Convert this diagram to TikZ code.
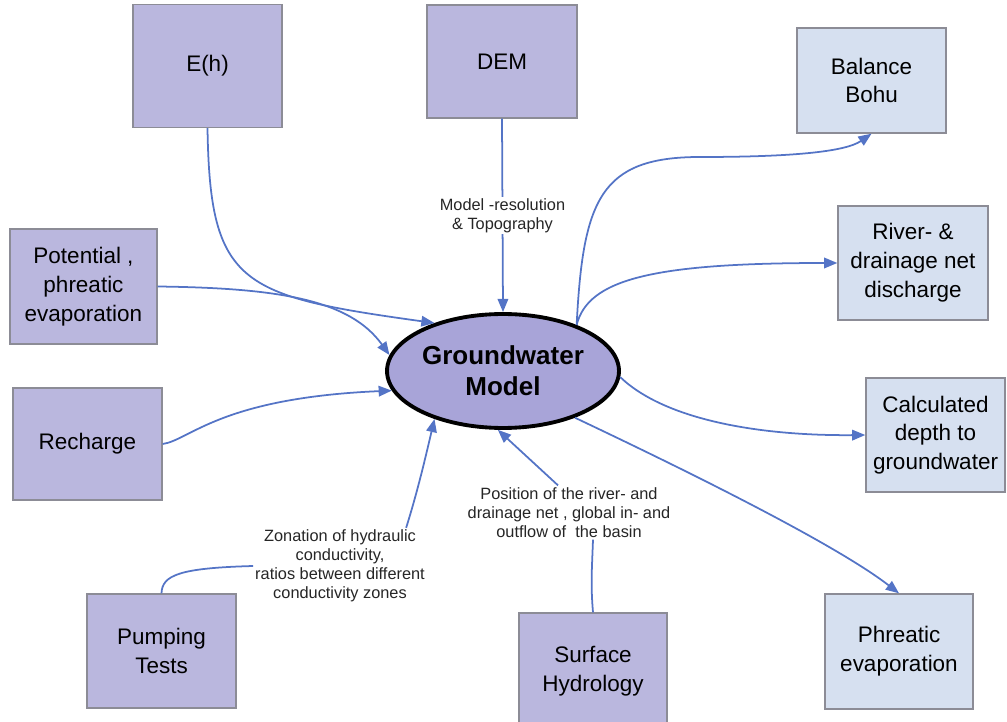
\documentclass[tikz,border=0pt]{standalone}
\usepackage{fontspec}
\setmainfont{Liberation Sans}
\usetikzlibrary{shapes.geometric,arrows.meta}
\definecolor{inboxfill}{RGB}{186,183,222}
\definecolor{outboxfill}{RGB}{214,224,240}
\definecolor{boxline}{RGB}{140,140,150}
\definecolor{arrowblue}{RGB}{84,116,198}
\definecolor{corefill}{RGB}{168,164,216}

\begin{document}
\begin{tikzpicture}[x=0.02cm,y=-0.02cm]
        \tikzstyle{source}=[rectangle,draw=boxline,line width=0.8pt,fill=inboxfill,minimum width=2.98cm,minimum height=2.28cm,inner sep=0pt,align=center,font=\fontsize{12.8}{16.4}\selectfont]
        \tikzstyle{result}=[source,fill=outboxfill]
        \tikzstyle{core}=[ellipse,draw=black,line width=2.2pt,fill=corefill,minimum width=4.64cm,minimum height=2.28cm,inner sep=0pt,align=center,font=\fontsize{14.8}{17.6}\selectfont\bfseries]
        \tikzstyle{note}=[fill=white,inner sep=1pt,align=center,text=black!85,font=\fontsize{9.3}{10.8}\selectfont]
        \tikzstyle{flow}=[draw=arrowblue,line width=1pt,-{Triangle[length=7.5pt,width=6pt]}]
        \tikzstyle{feed}=[draw=arrowblue,line width=1pt]
        \useasboundingbox (0,0) rectangle (1007,722);
        \clip (0,0) rectangle (1007,722);
        \begin{scope}
                \node [core] (gw) at (503,371) {Groundwater\\Model};
                \node [source,minimum height=2.46cm] (eh) at (207.5,66) {E(h)};
                \node [source,minimum width=3cm,minimum height=2.26cm] (dem) at (502,61.5) {DEM};
                \node [source,minimum width=2.94cm,minimum height=2.3cm] (pot) at (83.5,286.5) {Potential ,\\phreatic\\evaporation};
                \node [source,minimum height=2.24cm] (rech) at (87.5,444) {Recharge};
                \node [source] (pump) at (161.5,651) {Pumping\\Tests};
                \node [source,minimum width=2.96cm,minimum height=2.32cm] (surf) at (593,671) {Surface\\Hydrology};
                \node [result,minimum height=2.1cm] (bohu) at (871.5,80.5) {Balance\\Bohu};
                \node [result,minimum width=3cm] (river) at (913,263) {River- \&\\drainage net\\discharge};
                \node [result,minimum width=2.78cm] (depth) at (935.5,435) {Calculated\\depth to\\groundwater};
                \node [result,minimum width=2.96cm,minimum height=2.3cm] (phreat) at (899,651.5) {Phreatic\\evaporation};
                \node [note] (zlab) at (340,566) {Zonation of hydraulic\\conductivity,\\ratios between different\\conductivity zones};
                \node [note] (plab) at (569,512.5) {Position of the river- and\\drainage net , global in- and\\outflow of \ the basin};

                \path[flow] (eh.south) .. controls (210,285) and (240,296) .. (gw.145);
                \path[flow] (dem.south) -- node[note] (mlab) {Model -resolution\\\& Topography} (gw.north);
                \path[flow] (pot.east) .. controls (280,288) and (350,300) .. (gw.172);
                \path[flow] (rech.east) .. controls (190,440) and (220,398) .. (gw.190);
                \path[feed] (pump.north) .. controls (162,575) and (180,568) .. (zlab.west);
                \path[flow] (zlab.30) .. controls (418,490) and (426,455) .. (gw.215);
                \path[feed] (surf.north) to[out=95,in=-92] (plab.south -| surf.north);
                \path[flow] (plab.112) -- (gw.265);
                \path[flow] (gw.32) .. controls (583,200) and (600,157) .. (700,157) .. controls (790,157) and (845,152) .. (bohu.south);
                \path[flow] (gw.32) .. controls (588,280) and (650,263) .. (river.west);
                \path[flow] (gw.-3) .. controls (665,420) and (760,436) .. (depth.west);
                \path[flow] (gw.-33) .. controls (660,458) and (830,540) .. (phreat.north);
        \end{scope}
\end{tikzpicture}
\end{document}
